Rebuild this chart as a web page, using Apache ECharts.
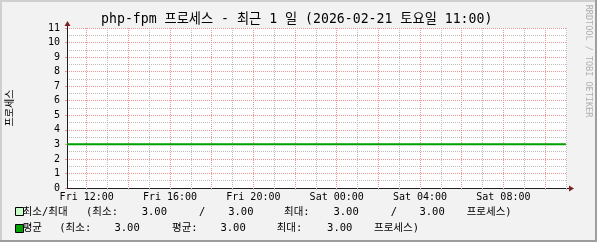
<!DOCTYPE html>
<html><head><meta charset="utf-8">
<script src="https://cdn.jsdelivr.net/npm/echarts@6/dist/echarts.min.js"></script>
<style>html,body{margin:0;padding:0;background:#f2f2f2}#c{width:597px;height:242px}</style>
</head><body><div id="c"></div>
<script>
// ---- data (hours since Fri 00:00) ----
const times      = [11.054, 12, 13, 14, 15, 16, 17, 18, 19, 20, 21, 22, 23, 24, 25, 26, 27, 28, 29, 30, 31, 32, 33, 34, 35];
const avgValues  = [3, 3, 3, 3, 3, 3, 3, 3, 3, 3, 3, 3, 3, 3, 3, 3, 3, 3, 3, 3, 3, 3, 3, 3, 3];
const minValues  = [3, 3, 3, 3, 3, 3, 3, 3, 3, 3, 3, 3, 3, 3, 3, 3, 3, 3, 3, 3, 3, 3, 3, 3, 3];
const maxValues  = [3, 3, 3, 3, 3, 3, 3, 3, 3, 3, 3, 3, 3, 3, 3, 3, 3, 3, 3, 3, 3, 3, 3, 3, 3];
const labelHours = [12, 16, 20, 24, 28, 32];
const labelTexts = ['Fri 12:00', 'Fri 16:00', 'Fri 20:00', 'Sat 00:00', 'Sat 04:00', 'Sat 08:00'];
const tickHours  = [12, 13, 14, 15, 16, 17, 18, 19, 20, 21, 22, 23, 24, 25, 26, 27, 28, 29, 30, 31, 32, 33, 34, 35];
const majorGridStep = 2;   // hours between red grid lines
const minorGridStep = 1;   // hours between grey grid lines
const xMin = 11.054, xMax = 35.054;      // graph time window (1 day)
const minorHourMin = 11, minorHourMax = 35; // whole-hour windows used for grid lines
const majorHourMin = 10, majorHourMax = 36;
const yMin = 0, yMax = 11;
const titleText = 'php-fpm 프로세스 - 최근 1 일 (2026-02-21 토요일 11:00)';
const yAxisTitle = '프로세스';
const watermark = 'RRDTOOL / TOBI OETIKER';
const unitText = '프로세스)';

// ---- styles / layout ----
const MONO = "'DejaVu Sans Mono', 'Noto Sans CJK KR', monospace";
const MGRID = '#eb9595';
const GRID = '#bdbdbd';
const AXIS = '#1f1f1f';
const ARROW = 'rgb(128,31,31)';
const PLOT = {left: 67, top: 28, width: 500, height: 160};
const pxPerHour = PLOT.width / (xMax - xMin);
const subGrid = (h0, h1) => ({
  left: PLOT.left - (xMin - h0) * pxPerHour, width: (h1 - h0) * pxPerHour,
  top: PLOT.top, height: PLOT.height, show: false, containLabel: false
});

const fmt = v => v.toFixed(2);
const minOf = a => Math.min.apply(null, a);
const maxOf = a => Math.max.apply(null, a);
const meanOf = a => a.reduce((s, v) => s + v, 0) / a.length;

const chart = echarts.init(document.getElementById('c'), null, {renderer: 'canvas'});

function txt(text, x, y, opts) {
  return Object.assign({
    type: 'text', x: x, y: y, silent: true,
    style: Object.assign({text: text, font: '10.5px ' + MONO, fill: '#000', verticalAlign: 'middle', align: 'left'}, (opts && opts.style) || {})
  }, opts && opts.el || {});
}
function num(v, right, y) { return txt(fmt(v), right, y, {style: {align: 'right'}}); }

const y1 = 212, y2 = 228;
const legend = [
  {type: 'rect', shape: {x: 15.5, y: 207.5, width: 8, height: 8}, style: {fill: '#c8ffc8', stroke: '#000', lineWidth: 1}, silent: true},
  {type: 'rect', shape: {x: 15.5, y: 224.5, width: 8, height: 8}, style: {fill: '#00a000', stroke: '#000', lineWidth: 1}, silent: true},
  txt('최소/최대', 22.7, y1),
  txt('(최소:', 86, y1),
  num(minOf(minValues), 167, y1),
  txt('/', 199, y1),
  num(minOf(maxValues), 253.5, y1),
  txt('최대:', 284, y1),
  num(maxOf(minValues), 358.7, y1),
  txt('/', 390.7, y1),
  num(maxOf(maxValues), 444.7, y1),
  txt(unitText, 466.7, y1),
  txt('평균', 22.7, y2),
  txt('(최소:', 59.3, y2),
  num(minOf(avgValues), 139.7, y2),
  txt('평균:', 172, y2),
  num(meanOf(avgValues), 245.7, y2),
  txt('최대:', 276.7, y2),
  num(maxOf(avgValues), 352.4, y2),
  txt(unitText, 374, y2)
];

const graphics = [
  {type: 'rect', shape: {x: 0, y: 0, width: 597, height: 2}, style: {fill: '#cfcfcf'}, silent: true},
  {type: 'rect', shape: {x: 0, y: 0, width: 2, height: 242}, style: {fill: '#cfcfcf'}, silent: true},
  {type: 'rect', shape: {x: 0, y: 240, width: 597, height: 2}, style: {fill: '#9e9e9e'}, silent: true},
  {type: 'rect', shape: {x: 595, y: 0, width: 2, height: 242}, style: {fill: '#9e9e9e'}, silent: true},
  txt(titleText, 296.7, 19.5, {style: {font: '13.2px ' + MONO, align: 'center'}}),
  txt(yAxisTitle, 10.5, 108, {style: {font: '10px ' + MONO, align: 'center'}, el: {rotation: Math.PI / 2}}),
  txt(watermark, 588, 61, {style: {font: '8.5px ' + MONO, align: 'center', fill: '#b0b0b0'}, el: {rotation: -Math.PI / 2}}),
  // axis extensions + arrows
  {type: 'line', shape: {x1: 67.5, y1: 28, x2: 67.5, y2: 24}, style: {stroke: AXIS, lineWidth: 1}, silent: true, z: 10},
  {type: 'polygon', shape: {points: [[64.5, 26], [70.5, 26], [67.5, 21]]}, style: {fill: ARROW}, silent: true, z: 10},
  {type: 'line', shape: {x1: 567, y1: 188.5, x2: 570, y2: 188.5}, style: {stroke: AXIS, lineWidth: 1}, silent: true, z: 10},
  {type: 'polygon', shape: {points: [[569, 185.5], [569, 191.5], [574, 188.5]]}, style: {fill: ARROW}, silent: true, z: 10}
].concat(legend);

const gridAxis = (gi, h0, h1, step, color) => ({
  gridIndex: gi, type: 'value', min: h0, max: h1, interval: step, position: 'bottom',
  axisLine: {show: false}, axisLabel: {show: false}, axisTick: {show: false},
  splitLine: {show: true, showMinLine: false, showMaxLine: h1 === minorHourMax,
    lineStyle: {color: color, type: [1, 1], width: 1}}
});

const option = {
  animation: false,
  backgroundColor: '#f2f2f2',
  grid: [
    Object.assign({show: true, backgroundColor: '#ffffff', borderWidth: 0, containLabel: false, z: 0}, PLOT),
    subGrid(minorHourMin, minorHourMax),
    subGrid(majorHourMin, majorHourMax)
  ],
  xAxis: [
    {
      gridIndex: 0, type: 'value', min: xMin, max: xMax, position: 'bottom', z: 5,
      axisLine: {show: true, lineStyle: {color: AXIS, width: 1}},
      axisTick: {show: true, customValues: tickHours, length: 2, lineStyle: {color: GRID}},
      axisLabel: {
        show: true, customValues: labelHours, margin: 4,
        fontFamily: MONO, fontSize: 10, color: '#000',
        formatter: v => { const i = labelHours.indexOf(Math.round(v)); return i >= 0 ? labelTexts[i] : ''; }
      },
      splitLine: {show: false}
    },
    gridAxis(1, minorHourMin, minorHourMax, minorGridStep, GRID),
    gridAxis(2, majorHourMin, majorHourMax, majorGridStep, MGRID)
  ],
  yAxis: [
    {
      gridIndex: 0, type: 'value', min: yMin, max: yMax, interval: 1, z: 5,
      axisLine: {show: true, lineStyle: {color: AXIS, width: 1}},
      axisTick: {show: true, length: 2, lineStyle: {color: MGRID}},
      axisLabel: {fontFamily: MONO, fontSize: 10, color: '#000', margin: 7},
      splitLine: {show: true, lineStyle: {color: MGRID, type: [1, 1], width: 1}},
      minorTick: {show: false, splitNumber: 2},
      minorSplitLine: {show: true, lineStyle: {color: GRID, type: [1, 1], width: 1}}
    },
    {gridIndex: 1, type: 'value', min: yMin, max: yMax, show: false},
    {gridIndex: 2, type: 'value', min: yMin, max: yMax, show: false}
  ],
  graphic: graphics,
  series: [
    {
      name: '평균', type: 'line', z: 5, showSymbol: false, silent: true, xAxisIndex: 0, yAxisIndex: 0,
      lineStyle: {color: '#00a000', width: 2},
      data: times.map((t, i) => [t, avgValues[i]])
    }
  ]
};
chart.setOption(option);
</script></body></html>
